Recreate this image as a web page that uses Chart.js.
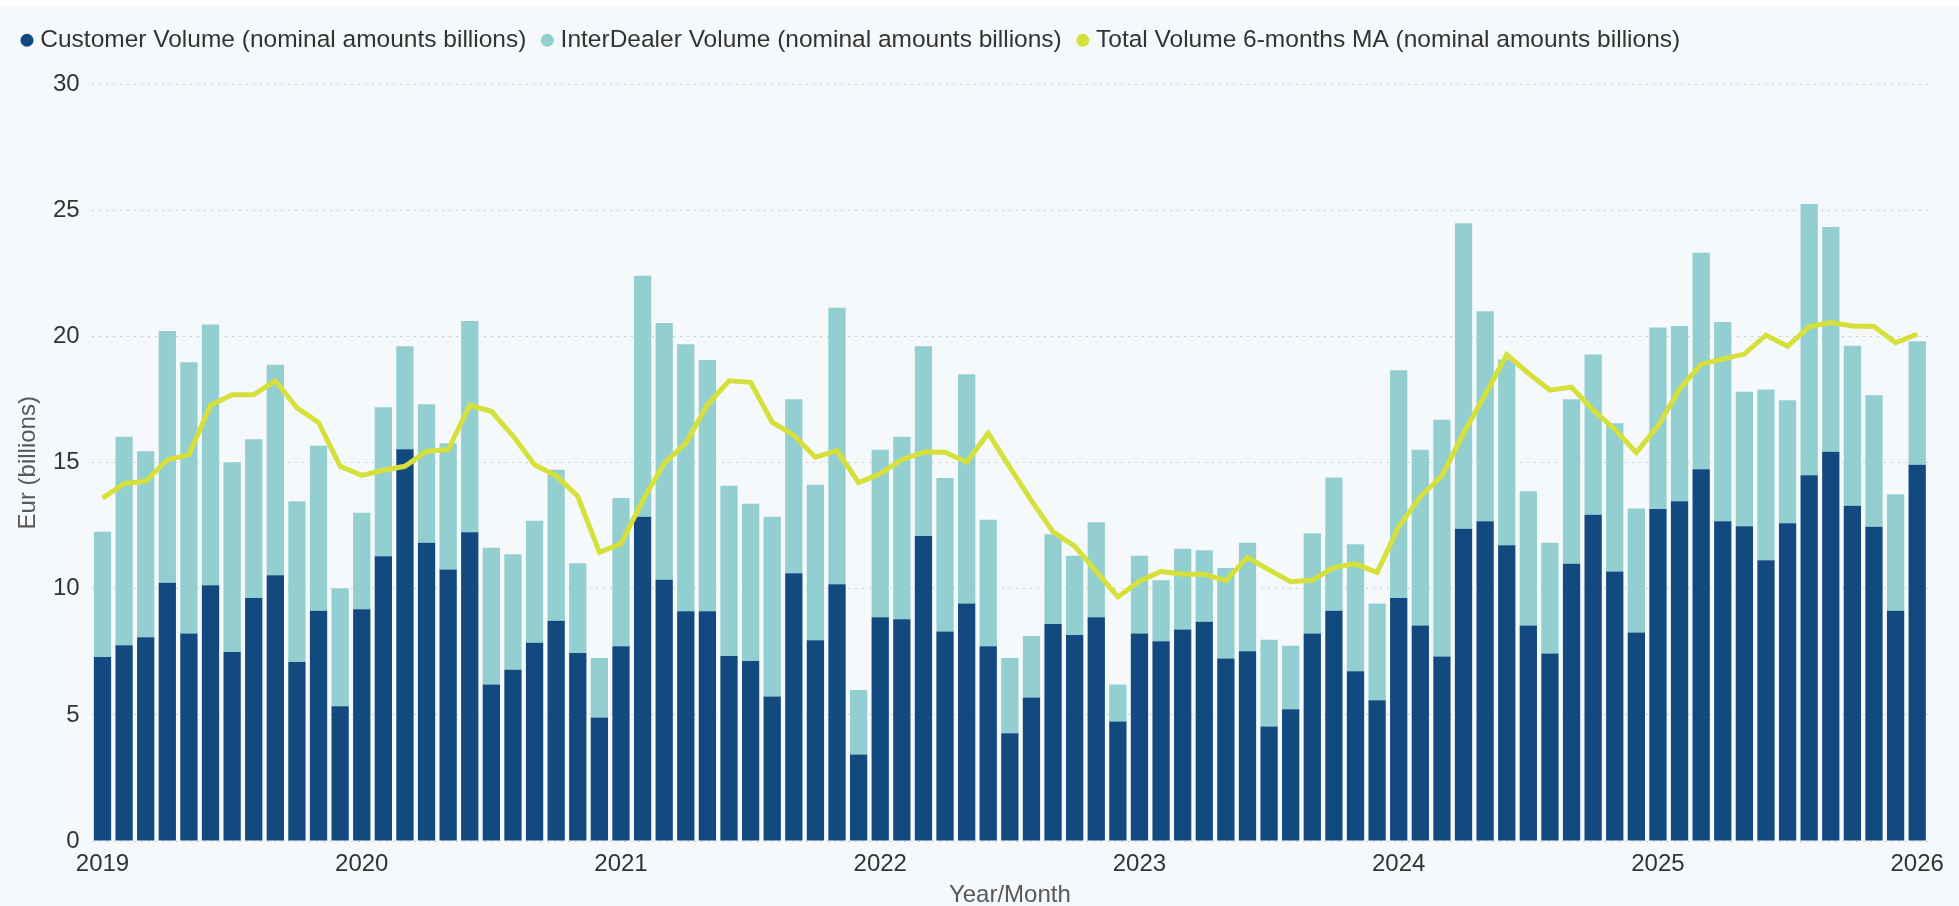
<!DOCTYPE html>
<html>
<head>
<meta charset="utf-8">
<title>Customer and InterDealer Volume</title>
<script src="https://cdn.jsdelivr.net/npm/chart.js@4.4.1/dist/chart.umd.min.js"></script>
<style>
  html, body { margin: 0; padding: 0; background: #ffffff; }
  #wrap { position: relative; width: 1959px; height: 906px; }
</style>
</head>
<body>
<div id="wrap"><canvas id="chart-volume"></canvas></div>
<script>
// ── Data (nominal amounts, EUR billions) ──────────
const years = ['2019', '2020', '2021', '2022', '2023', '2024', '2025', '2026'];

// monthly categories, Jan 2019 .. Jan 2026
const months = [];
years.forEach(y => {
  const last = y === '2026' ? 1 : 12;
  for (let m = 1; m <= last; m++) months.push(y + '-' + String(m).padStart(2, '0'));
});

const customerVolume = [
  7.30, 7.76, 8.08, 10.24, 8.23, 10.14, 7.50, 9.64, 10.54, 7.10, 9.13, 5.34,     // 2019
  9.19, 11.29, 15.54, 11.83, 10.77, 12.24, 6.21, 6.79, 7.86, 8.73, 7.46, 4.90,   // 2020
  7.72, 12.86, 10.36, 9.11, 9.11, 7.34, 7.14, 5.73, 10.62, 7.96, 10.18, 3.43,    // 2021
  8.87, 8.79, 12.10, 8.31, 9.42, 7.72, 4.27, 5.69, 8.61, 8.17, 8.87, 4.74,       // 2022
  8.23, 7.92, 8.39, 8.69, 7.24, 7.52, 4.54, 5.22, 8.23, 9.13, 6.73, 5.58,        // 2023
  9.64, 8.55, 7.32, 12.38, 12.68, 11.73, 8.55, 7.44, 10.99, 12.94, 10.69, 8.27,  // 2024
  13.17, 13.47, 14.74, 12.68, 12.48, 11.13, 12.60, 14.50, 15.44, 13.29, 12.46, 9.13, // 2025
  14.92                                                                            // 2026
];

const interDealerVolume = [
  4.96, 8.27, 7.38, 9.98, 10.76, 10.34, 7.52, 6.29, 8.35, 6.37, 6.54, 4.68,
  3.83, 5.91, 4.08, 5.49, 5.00, 8.38, 5.42, 4.58, 4.84, 5.99, 3.55, 2.36,
  5.88, 9.56, 10.18, 10.59, 9.96, 6.75, 6.23, 7.13, 6.90, 6.17, 10.97, 2.56,
  6.65, 7.24, 7.52, 6.09, 9.09, 5.02, 2.99, 2.44, 3.55, 3.14, 3.77, 1.47,
  3.08, 2.42, 3.20, 2.84, 3.59, 4.31, 3.44, 2.52, 3.97, 5.29, 5.04, 3.84,
  9.03, 6.97, 9.39, 12.12, 8.33, 7.36, 5.32, 4.39, 6.53, 6.35, 5.88, 4.92,
  7.19, 6.95, 8.59, 7.90, 5.34, 6.77, 4.88, 10.76, 8.91, 6.35, 5.22, 4.62,
  4.90
];

const totalVolumeMA6 = [
  13.60, 14.17, 14.27, 15.12, 15.32, 17.28, 17.70, 17.70, 18.25, 17.18, 16.60, 14.86,
  14.50, 14.70, 14.86, 15.46, 15.52, 17.28, 17.04, 16.07, 14.92, 14.48, 13.67, 11.45,
  11.79, 13.50, 14.98, 15.77, 17.30, 18.25, 18.19, 16.61, 16.09, 15.22, 15.48, 14.21,
  14.56, 15.12, 15.42, 15.42, 15.02, 16.17, 14.82, 13.50, 12.26, 11.69, 10.69, 9.68,
  10.30, 10.69, 10.58, 10.58, 10.32, 11.25, 10.75, 10.28, 10.34, 10.85, 10.99, 10.65,
  12.46, 13.65, 14.48, 16.17, 17.70, 19.29, 18.55, 17.88, 18.00, 17.08, 16.33, 15.40,
  16.46, 17.92, 18.91, 19.11, 19.31, 20.06, 19.62, 20.40, 20.56, 20.42, 20.40, 19.76,
  20.10
];

const yTicks = { min: 0, max: 30, step: 5 };

// ── Styling ───────────────────────────────────────
const FONT = "'Liberation Sans', Arial, Helvetica, sans-serif";
const LEGEND_EXTRA = 22;   // gap between legend and plot area

const canvasBackground = {
  id: 'canvasBackground',
  beforeDraw(chart) {
    const { ctx, width, height } = chart;
    ctx.save();
    ctx.fillStyle = '#f5f9fb';
    ctx.fillRect(0, 0, width, height);
    ctx.fillStyle = '#ffffff';
    ctx.fillRect(0, 0, width, 7);
    ctx.restore();
  }
};

const legendSpacing = {
  id: 'legendSpacing',
  beforeInit(chart) {
    const fit = chart.legend.fit;
    chart.legend.fit = function () {
      fit.bind(chart.legend)();
      this.height += LEGEND_EXTRA;
    };
  }
};

new Chart(document.getElementById('chart-volume').getContext('2d'), {
  type: 'bar',
  data: {
    labels: months,
    datasets: [
      {
        label: 'Customer Volume (nominal amounts billions)',
        data: customerVolume,
        backgroundColor: '#124a7f',
        barPercentage: 0.8,
        categoryPercentage: 1.0,
        order: 1,
      },
      {
        label: 'InterDealer Volume (nominal amounts billions)',
        data: interDealerVolume,
        backgroundColor: '#93cfd0',
        barPercentage: 0.8,
        categoryPercentage: 1.0,
        order: 1,
      },
      {
        type: 'line',
        label: 'Total Volume 6-months MA (nominal amounts billions)',
        data: totalVolumeMA6,
        borderColor: '#d5e03a',
        backgroundColor: '#d5e03a',
        borderWidth: 5,
        pointRadius: 0,
        tension: 0,
        stack: 'ma',
        order: 0,
      },
    ],
  },
  options: {
    responsive: true,
    maintainAspectRatio: false,
    animation: false,
    layout: { padding: { top: 8, left: 6, right: 31, bottom: 0 } },
    plugins: {
      legend: {
        align: 'start',
        labels: {
          usePointStyle: true,
          pointStyle: 'circle',
          boxWidth: 2,
          boxHeight: 9.2,
          padding: 20,
          color: '#333333',
          font: { family: FONT, size: 24.5 },
          sort: (a, b) => a.datasetIndex - b.datasetIndex,
          generateLabels(chart) {
            const items = Chart.defaults.plugins.legend.labels.generateLabels(chart);
            items.forEach(i => { i.lineWidth = 0; i.strokeStyle = 'transparent'; i.pointStyle = 'circle'; });
            return items;
          },
        },
      },
      tooltip: { enabled: false },
    },
    scales: {
      x: {
        stacked: true,
        grid: { display: false, drawTicks: false },
        border: { display: false },
        title: {
          display: true, text: 'Year/Month', color: '#595959',
          font: { family: FONT, size: 24, lineHeight: 0.6 },
          padding: { top: 0.8, bottom: 3.8 },
        },
        ticks: {
          autoSkip: false, maxRotation: 0, minRotation: 0, padding: 11,
          color: '#333333',
          font: { family: FONT, size: 24, lineHeight: 1 },
          callback(value, index) {
            const m = months[index];
            return m.endsWith('-01') ? m.slice(0, 4) : '';
          },
        },
      },
      y: {
        stacked: true,
        min: yTicks.min,
        max: yTicks.max,
        grid: { color: '#c9cdd0', lineWidth: 1, drawTicks: false },
        border: { display: false, dash: [2, 5] },
        title: {
          display: true, text: 'Eur (billions)', color: '#595959',
          font: { family: FONT, size: 24, lineHeight: 1 },
          padding: { top: 10, bottom: 1 },
        },
        ticks: {
          stepSize: yTicks.step, padding: 12,
          color: '#333333',
          font: { family: FONT, size: 24, lineHeight: 1 },
        },
      },
    },
  },
  plugins: [canvasBackground, legendSpacing],
});
</script>
</body>
</html>
